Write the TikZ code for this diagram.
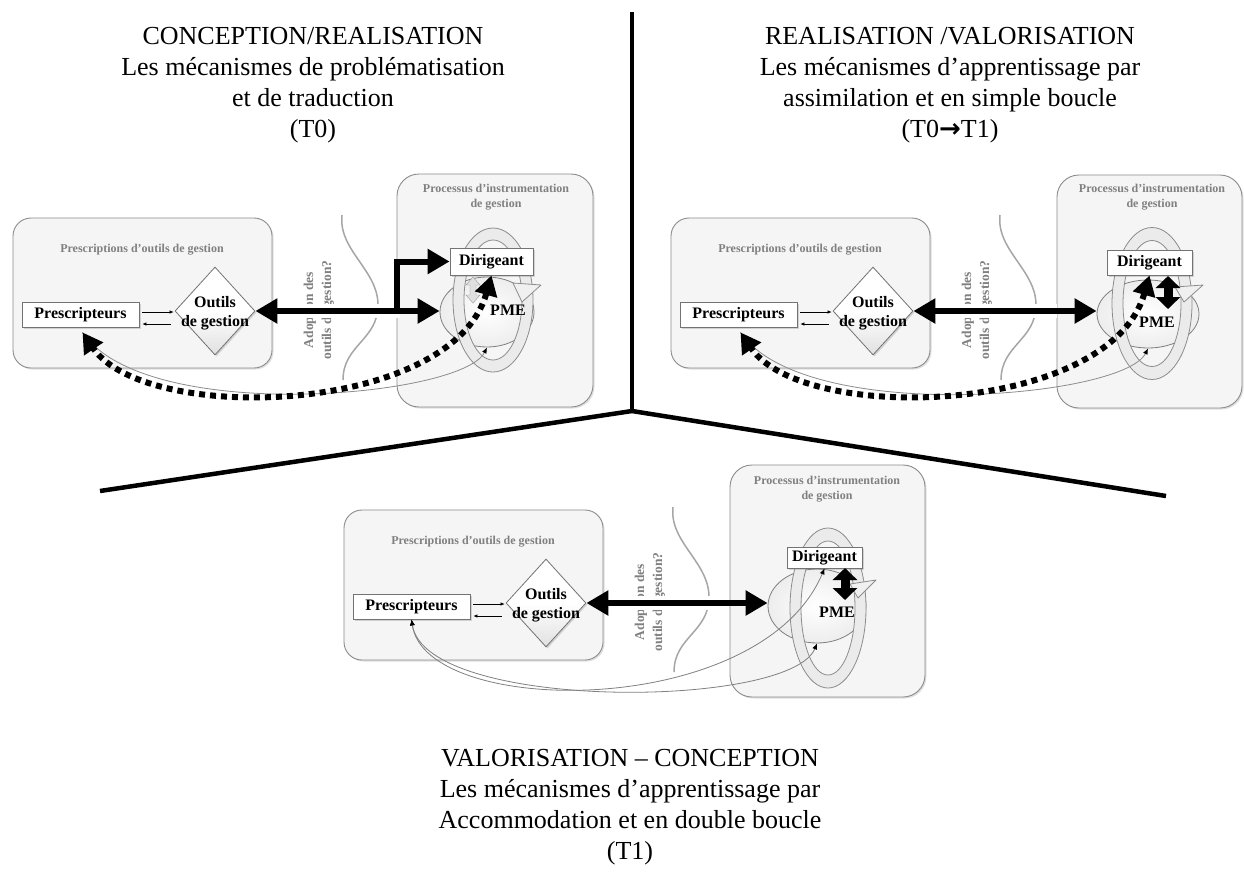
\documentclass[tikz,border=0pt]{standalone}
\usepackage{fontspec}
\setmainfont{Liberation Serif}
\newfontfamily\dejavu{DejaVu Sans}
\usetikzlibrary{arrows.meta,shapes.geometric,calc,shadows}

\newcommand\leftgroup[3]{%
\begin{scope}[shift={(#2,#3)}]
\node[panelbox, minimum width=259pt, minimum height=150pt] (#1lb) at (142.5,293) {};
\node[hdr] (#1lbh) at (142,250) {Prescriptions d’outils de gestion};
\node[tbox, minimum width=117pt, minimum height=25pt] (#1pres) at (80.5,314.5) {Prescripteurs};
\node[diam] (#1dia) at (215,311) {};
\node[dtext] (#1diat) at (215,313) {Outils\\de gestion};
\draw[smallarr] ($(#1pres.east)+(3,-2.5)$) -- ($(#1dia.west)+(-1,1)$);
\draw[smallarr] ($(#1dia.west)+(-4,13)$) -- ($(#1pres.east)+(3,9.5)$);
\draw[wavy] (342,215) .. controls (338,250) and (378,270) .. (378,305) .. controls (378,340) and (343,345) .. (343,380);
\node[adopt] (#1adopt) at (319,310) {Adoption des\\outils de gestion?};
\end{scope}}

\begin{document}
\begin{tikzpicture}[x=1pt,y=-1pt,
  panelbox/.style={draw=black!45, line width=0.9pt, rounded corners=18pt, fill=black!4, inner sep=0,
    drop shadow={opacity=0.25, shadow xshift=1.5pt, shadow yshift=-1.5pt}},
  hdr/.style={text=black!50, font=\bfseries\fontsize{12}{15}\selectfont, align=center, inner sep=0},
  tbox/.style={draw=black!55, fill=white, line width=0.8pt, font=\bfseries\fontsize{16}{19}\selectfont, inner sep=0,
    drop shadow={opacity=0.3, shadow xshift=1.5pt, shadow yshift=-1.5pt}},
  diam/.style={diamond, draw=black!55, line width=0.8pt, inner sep=0, minimum width=80pt, minimum height=88pt,
    shade, shading angle=45, top color=white, bottom color=black!12, middle color=white,
    drop shadow={opacity=0.3, shadow xshift=1.5pt, shadow yshift=-1.5pt}},
  dtext/.style={font=\bfseries\fontsize{16}{19}\selectfont, align=center, inner sep=0},
  ttl/.style={font=\fontsize{26}{31}\selectfont, align=center, inner sep=0},
  adopt/.style={text=black!50, font=\bfseries\fontsize{13.5}{18}\selectfont, align=center, rotate=90, inner sep=0},
  wavy/.style={draw=black!35, line width=1.5pt},
  smallarr/.style={line width=0.6pt, -{Latex[length=4pt,width=3.5pt]}},
  bigarrow/.style={line width=6pt, {Triangle[length=22pt,width=24pt]}-{Triangle[length=22pt,width=24pt]},
    preaction={draw=white, line width=14pt, -, shorten <=40pt, shorten >=40pt}},
  bigone/.style={line width=6pt, line join=miter, -{Triangle[length=22pt,width=24pt]}},
  dotarrow/.style={line width=6pt, dash pattern=on 6pt off 5pt, {Triangle[length=20pt,width=22pt]}-{Triangle[length=20pt,width=22pt]}},
  thingray/.style={draw=black!45, line width=0.8pt, -{Latex[length=6pt,width=5pt,color=black]}},
  thingraytwo/.style={draw=black!50, line width=0.8pt, {Latex[length=6pt,width=5pt,color=black]}-{Latex[length=6pt,width=5pt,color=black]}},
  blob/.style={ellipse, draw=black!50, line width=0.8pt, inner sep=0, inner color=white, outer color=black!7},
  ring/.style={fill=black!8, draw=black!45, line width=0.8pt, even odd rule},
  ringhead/.style={fill=black!6, draw=black!45, line width=0.8pt, line join=round},
  blockarr/.style={line width=9pt, {Triangle[length=12pt,width=24pt]}-{Triangle[length=12pt,width=24pt]}},
  divider/.style={line width=4.5pt}
]
\useasboundingbox (0,0) rectangle (1244,871);
\fill[white] (0,0) rectangle (1244,871);

% dividers
\coordinate (hub) at (632,411);
\coordinate (vtop) at (632,12);
\coordinate (lend) at (100,491);
\coordinate (rend) at (1166,496);
\draw[divider] (vtop) -- (hub);
\draw[divider] (hub) -- (lend);
\draw[divider] (hub) -- (rend);

% titles
\node[ttl] (t1) at (313,85) {CONCEPTION/REALISATION\\Les mécanismes de problématisation\\et de traduction\\(T0)};
\node[ttl] (t2) at (950,85) {REALISATION /VALORISATION\\Les mécanismes d’apprentissage par\\assimilation et en simple boucle\\(T0{\dejavu\bfseries →}T1)};
\node[ttl] (t3) at (630,807) {VALORISATION -- CONCEPTION\\Les mécanismes d’apprentissage par\\Accommodation et en double boucle\\(T1)};

% left groups
\leftgroup{a}{0}{0}
\leftgroup{b}{658}{0}
\leftgroup{c}{331}{292}

% ===== panel 1 right =====
\node[panelbox, rounded corners=22pt, minimum width=196pt, minimum height=233pt] (rb1) at (495,290.5) {};
\node[hdr] (rh1) at (496,197) {Processus d’instrumentation\\de gestion};
\node[blob, minimum width=94pt, minimum height=70pt] (pme1) at (487,312) {};
\draw[ring] (493,300) ellipse [x radius=40pt, y radius=72pt] (493,300) ellipse [x radius=29pt, y radius=60pt];
\draw[ringhead] (513,283) -- (541,285) -- (522,302) -- cycle;
\node[tbox, minimum width=83pt, minimum height=27pt] (dir1) at (491.5,261.5) {Dirigeant};
\draw[fill=black!12, draw=black!40] (473,277) -- (480,285) -- (476,285) -- (476,295) -- (480,295) -- (473,303) -- (466,295) -- (470,295) -- (470,285) -- (466,285) -- cycle;
\node[dtext] (pmet1) at (508,310) {PME};

% ===== panel 2 right =====
\node[panelbox, rounded corners=22pt, minimum width=185pt, minimum height=233pt] (rb2) at (1149.5,291.5) {};
\node[hdr] (rh2) at (1152,197) {Processus d’instrumentation\\de gestion};
\node[blob, minimum width=102pt, minimum height=68pt] (pme2) at (1148,314) {};
\draw[ring] (1152,303.5) ellipse [x radius=40pt, y radius=76pt] (1152,303.5) ellipse [x radius=29pt, y radius=63pt];
\draw[ringhead] (1175,287) -- (1203,285) -- (1184,302) -- cycle;
\node[tbox, minimum width=85pt, minimum height=25pt] (dir2) at (1149.5,262.5) {Dirigeant};
\node[dtext] (pmet2) at (1157,322) {PME};
\coordinate (ba2t) at (1168,276);
\coordinate (ba2b) at (1168,309);
\draw[blockarr] (ba2t) -- (ba2b);

% ===== panel 3 right =====
\node[panelbox, rounded corners=22pt, minimum width=195pt, minimum height=232pt] (rb3) at (827.5,581) {};
\node[hdr] (rh3) at (827,489) {Processus d’instrumentation\\de gestion};
\node[blob, minimum width=98pt, minimum height=74pt] (pme3) at (817,606) {};
\draw[ring] (828,608) ellipse [x radius=38pt, y radius=80pt] (828,608) ellipse [x radius=27pt, y radius=67pt];
\draw[ringhead] (850,584) -- (876,580) -- (858,598) -- cycle;
\node[tbox, minimum width=75pt, minimum height=21pt] (dir3) at (824.5,557.5) {Dirigeant};
\node[dtext] (pmet3) at (837,612) {PME};
\coordinate (ba3t) at (845,568);
\coordinate (ba3b) at (845,600);
\draw[blockarr] (ba3t) -- (ba3b);

% ===== connectors =====
% panel 1
\draw[thingray] ($(apres.south)+(2,5)$) .. controls +(63,93) and +(-25,50) .. (pme1.south);
\draw[bigarrow] (adia.east) -- (adia.east -| pme1.west);
\coordinate (br1) at (397,313);
\draw[bigone] (br1) |- (dir1.west);
\draw[dotarrow] (dir1.south) .. controls +(-40,140) and +(63,93) .. ($(apres.south)+(2,5)$);

% panel 2
\draw[thingray] ($(bpres.south)+(2,5)$) .. controls +(63,93) and +(-25,50) .. (pme2.south);
\draw[bigarrow] (bdia.east) -- (bdia.east -| pme2.west);
\draw[dotarrow] (dir2.south) .. controls +(-40,140) and +(63,93) .. ($(bpres.south)+(2,5)$);

% panel 3
\draw[bigarrow] (cdia.east) -- (cdia.east -| pme3.west);
\draw[thingraytwo] (cpres.south) .. controls +(14,92) and +(-27,66) .. (pme3.south);
\draw[thingraytwo] (cpres.south) .. controls +(14,99) and +(-64,152) .. (dir3.south);
\end{tikzpicture}
\end{document}
